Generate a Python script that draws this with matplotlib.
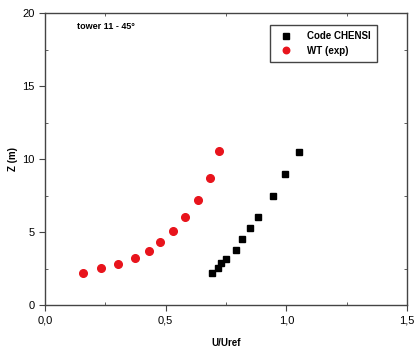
import matplotlib
matplotlib.use('Agg')
import matplotlib.pyplot as plt
from matplotlib.ticker import MultipleLocator, FuncFormatter

# %% data
u_chensi = [0.692, 0.716, 0.731, 0.752, 0.793, 0.816, 0.851, 0.883, 0.944, 0.995, 1.053]
z_chensi = [2.2, 2.55, 2.85, 3.15, 3.8, 4.5, 5.25, 6.0, 7.5, 9.0, 10.5]

u_wt = [0.159, 0.232, 0.304, 0.372, 0.430, 0.478, 0.529, 0.581, 0.635, 0.683, 0.720]
z_wt = [2.17, 2.52, 2.84, 3.25, 3.70, 4.32, 5.10, 6.06, 7.22, 8.69, 10.56]

plt.rcParams['font.family'] = ['Liberation Sans', 'DejaVu Sans']

fig = plt.figure(figsize=(4.15, 3.49), dpi=100)
ax = fig.add_axes([0.108, 0.126, 0.873, 0.836])

ax.plot(u_chensi, z_chensi, 's', color='black', markersize=5, label='Code CHENSI')
ax.plot(u_wt, z_wt, 'o', color='#e8141c', markersize=5.5, label='WT (exp)')

ax.set_xlim(0, 1.5)
ax.set_ylim(0, 20)
ax.xaxis.set_major_locator(MultipleLocator(0.5))
ax.xaxis.set_minor_locator(MultipleLocator(0.25))
ax.yaxis.set_major_locator(MultipleLocator(5))
ax.yaxis.set_minor_locator(MultipleLocator(2.5))
ax.xaxis.set_major_formatter(FuncFormatter(lambda v, p: f'{v:.1f}'.replace('.', ',')))
ax.tick_params(which='major', direction='out', length=4, labelsize=8, color='#444444')
ax.tick_params(which='minor', direction='in', length=2.5, color='#444444')
ax.tick_params(which='both', top=True, right=True)
ax.tick_params(which='major', top=False, right=False)
for s in ax.spines.values():
    s.set_color('#444444')
    s.set_linewidth(1.0)

ax.set_xlabel('U/Uref', fontsize=7, fontweight='bold')
ax.set_ylabel('Z (m)', fontsize=7, fontweight='bold')
ax.xaxis.set_label_coords(0.5, -0.113)
ax.yaxis.set_label_coords(-0.075, 0.5)
ax.text(0.088, 0.953, 'tower 11 - 45°', transform=ax.transAxes, fontsize=6.5,
        fontweight='bold', va='center')

leg = ax.legend(loc='upper right', bbox_to_anchor=(0.93, 0.976),
                prop={'weight': 'bold', 'size': 7}, fancybox=False, framealpha=1,
                edgecolor='#444444', handletextpad=1.2, borderpad=0.6, labelspacing=0.5,
                markerscale=0.85)
leg.get_frame().set_linewidth(1.0)

plt.savefig('out.png', dpi=100)
plt.close()
